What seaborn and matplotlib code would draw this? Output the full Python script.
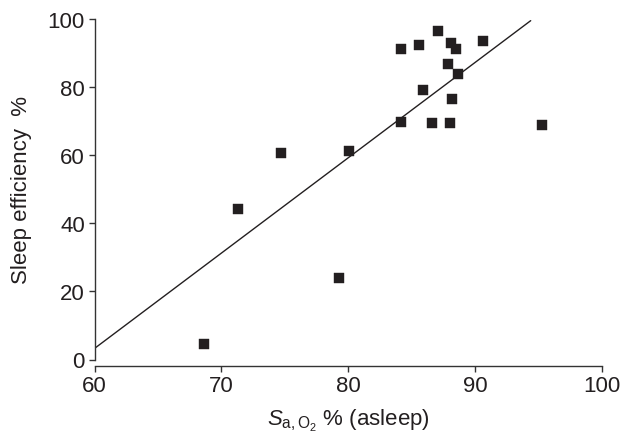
import matplotlib
matplotlib.use("Agg")
import matplotlib.pyplot as plt
import seaborn as sns
import numpy as np
import pandas as pd

# Data
sao2 = [68.6, 71.3, 74.7, 79.3, 80.1, 84.2, 84.2, 85.6, 85.9, 86.6,
        87.1, 87.9, 88.0, 88.1, 88.2, 88.5, 88.7, 90.6, 95.3]
sleep_eff = [4.5, 44.3, 60.6, 23.8, 61.1, 91.2, 69.8, 92.3, 79.2, 69.4,
             96.5, 86.6, 69.4, 92.8, 76.4, 91.1, 83.9, 93.5, 68.9]

# regression line
line_slope = 2.796
line_intercept_at_60 = 3.24
line_x_range = [60.0, 94.4]

x_ticks = [60, 70, 80, 90, 100]
y_ticks = [0, 20, 40, 60, 80, 100]

df = pd.DataFrame({"sao2": sao2, "eff": sleep_eff})

sns.set_theme(style="ticks")
plt.rcParams["font.family"] = ["Liberation Sans", "DejaVu Sans"]
plt.rcParams["mathtext.fontset"] = "custom"
plt.rcParams["mathtext.rm"] = "Liberation Sans"
plt.rcParams["mathtext.it"] = "Liberation Sans:italic"

fig = plt.figure(figsize=(6.21, 4.39), dpi=100)
ax = fig.add_axes([94.5 / 621, 78.5 / 439, (601.7 - 94.5) / 621, (360.5 - 19.7) / 439])

lx = np.array(line_x_range)
ly = line_intercept_at_60 + line_slope * (lx - 60)
sns.lineplot(x=lx, y=ly, ax=ax, color="#231f20", linewidth=1.0)

sns.scatterplot(data=df, x="sao2", y="eff", ax=ax, marker="s", s=42,
                color="#231f20", edgecolor="#231f20", linewidth=0.3, zorder=3,
                clip_on=False)

ax.set_xlim(60, 100)
ax.set_ylim(0, 100)
ax.set_xticks(x_ticks)
ax.set_yticks(y_ticks)
ax.set_xticklabels([str(t) for t in x_ticks])
ax.set_yticklabels([str(t) for t in y_ticks])

for s in ["top", "right"]:
    ax.spines[s].set_visible(False)
for s in ["left", "bottom"]:
    ax.spines[s].set_color("#333333")
    ax.spines[s].set_linewidth(1.0)
ax.spines["bottom"].set_position(("outward", 5))

ax.tick_params(axis="both", which="major", length=4, width=1.0, color="#333333",
               labelsize=16, labelcolor="#231f20")
ax.tick_params(axis="x", pad=2)
ax.tick_params(axis="y", pad=3)

ax.set_xlabel(r"$\mathit{S}_{\mathrm{a,O}_{2}}$ % (asleep)", fontsize=16,
              color="#231f20", labelpad=8)
ax.set_ylabel("Sleep efficiency  %", fontsize=16, color="#231f20", labelpad=11)

fig.savefig("out.png", dpi=100)
